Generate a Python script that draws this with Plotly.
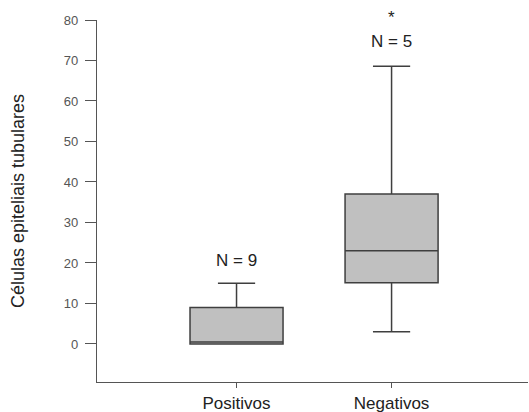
import plotly.graph_objects as go

categories = ["Positivos", "Negativos"]
lower_whisker = [0, 3]
q1_values = [0, 15.1]
median_values = [0.5, 23.0]
q3_values = [9.0, 37.0]
upper_whisker = [15.0, 68.6]
n_labels = ["N = 9", "N = 5"]
n_label_y = [20.7, 74.8]
star_label = "*"
star_y = 83.5
y_tick_values = [0, 10, 20, 30, 40, 50, 60, 70, 80]

y_range = [-9.4, 80]

fig = go.Figure()
fig.add_trace(go.Box(
    x=categories,
    lowerfence=lower_whisker,
    q1=q1_values,
    median=median_values,
    q3=q3_values,
    upperfence=upper_whisker,
    fillcolor="#c0c0c0",
    line=dict(color="#3f3f3f", width=1.5),
    whiskerwidth=0.4,
    width=0.6,
    boxpoints=False,
    hoverinfo="skip",
    showlegend=False,
))

txt_font = dict(size=17, color="#222222", family="Liberation Sans, Arial")
for cat, txt, yy in zip(categories, n_labels, n_label_y):
    fig.add_annotation(x=cat, y=yy, text=txt, showarrow=False, font=txt_font)
star_paper = (star_y - y_range[0]) / (y_range[1] - y_range[0])
fig.add_annotation(x=categories[1], y=star_paper, yref="paper", text=star_label,
                   showarrow=False, font=txt_font)

fig.update_layout(
    width=529, height=412,
    margin=dict(l=97, r=1, t=20, b=30, autoexpand=False),
    plot_bgcolor="white", paper_bgcolor="white",
    font=dict(family="Liberation Sans, Arial", color="#333333"),
    xaxis=dict(
        range=[-0.9, 1.88],
        showline=True, linecolor="#555555", linewidth=1.2,
        ticks="outside", ticklen=5, tickcolor="#555555",
        tickfont=dict(size=17, color="#222222"),
        showgrid=False, zeroline=False, automargin=False,
    ),
    yaxis=dict(
        range=y_range,
        tickvals=y_tick_values,
        showline=True, linecolor="#555555", linewidth=1.2,
        ticks="outside", ticklen=11, tickcolor="#555555",
        tickfont=dict(size=13, color="#555555"),
        ticklabelstandoff=4,
        showgrid=False, zeroline=False, automargin=False,
        title=dict(text="Células epiteliais tubulares",
                   font=dict(size=18, color="#222222"), standoff=34),
    ),
)

fig.write_html("out.html", config={"displayModeBar": False},
               post_script="document.body.style.margin='0';")
